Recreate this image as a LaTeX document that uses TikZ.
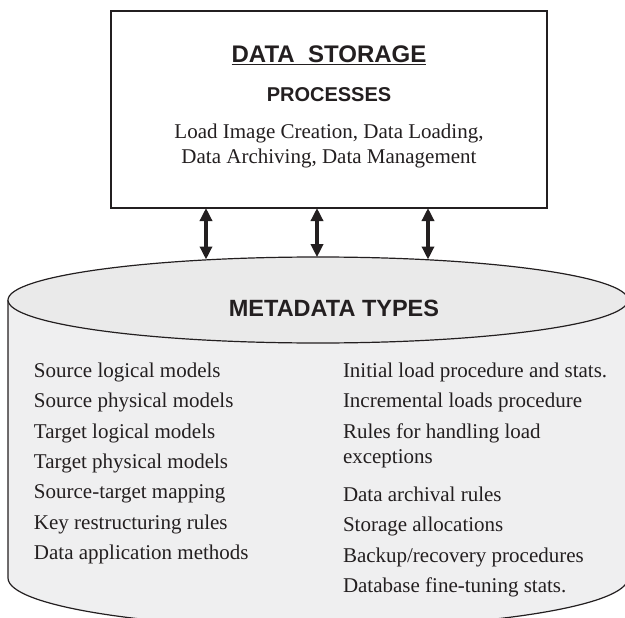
\documentclass[tikz,border=0pt]{standalone}
\usepackage{fontspec}
\setmainfont{Liberation Serif}
\newfontfamily\hdfont{Liberation Sans}
\usetikzlibrary{arrows.meta}
\definecolor{ink}{HTML}{231F20}
\definecolor{topfill}{HTML}{EAEAEA}
\definecolor{bodyfill}{HTML}{EFEFF0}
\begin{document}
\begin{tikzpicture}[x=1pt,y=1pt,
  every node/.style={inner sep=0pt, outer sep=0pt, text=ink},
  item/.style={anchor=base west, font=\fontsize{21}{25}\selectfont},
  boxline/.style={anchor=base, font=\fontsize{21}{25}\selectfont},
  headA/.style={anchor=base, font=\hdfont\bfseries\fontsize{24}{28}\selectfont},
  headB/.style={anchor=base, font=\hdfont\bfseries\fontsize{20}{24}\selectfont},
  headC/.style={anchor=base, font=\hdfont\bfseries\fontsize{23.5}{28}\selectfont},
  dbl/.style={{Triangle[width=12pt,length=13pt]}-{Triangle[width=12pt,length=13pt]}, line width=3.5pt, draw=ink},
  frame/.style={draw=ink, line width=1.3pt},
  cyl/.style={draw=ink, line width=1.2pt}]
\useasboundingbox (0,0) rectangle (625,-618);
% storage box
\node[frame, fill=white, minimum width=436pt, minimum height=197pt, anchor=north west] (box) at (111,-11) {};
\node[headA] (ds) at (329,-63) {\underline{DATA\ \ STORAGE}};
\node[headB] (proc) at (329,-102) {PROCESSES};
\node[boxline] (l1) at (329,-139) {Load Image Creation, Data Loading,};
\node[boxline] (l2) at (329,-164) {Data Archiving, Data Management};
% cylinder
\filldraw[cyl, fill=bodyfill] (8,-300) -- (8,-578) arc[start angle=180, end angle=360, x radius=310, y radius=50] -- (628,-300);
\filldraw[cyl, fill=topfill] (318,-300) ellipse[x radius=310, y radius=43];
\node[headC] (mt) at (334,-316) {METADATA TYPES};
% arrows
\coordinate (b1) at (206,-259.5);
\coordinate (b2) at (317,-257.2);
\coordinate (b3) at (428,-259.5);
\draw[dbl] (box.south -| b1) -- (b1);
\draw[dbl] (box.south -| b2) -- (b2);
\draw[dbl] (box.south -| b3) -- (b3);
% left column
\node[item] (s1) at (34,-377) {Source logical models};
\node[item] (s2) at (34,-407.5) {Source physical models};
\node[item] (s3) at (34,-438) {Target logical models};
\node[item] (s4) at (34,-468) {Target physical models};
\node[item] (s5) at (34,-498.5) {Source-target mapping};
\node[item] (s6) at (34,-529) {Key restructuring rules};
\node[item] (s7) at (34,-559.5) {Data application methods};
% right column
\node[item] (r1) at (343,-377) {Initial load procedure and stats.};
\node[item] (r2) at (343,-407.5) {Incremental loads procedure};
\node[item] (r3) at (343,-438) {Rules for handling load};
\node[item] (r4) at (343,-463) {exceptions};
\node[item] (r5) at (343,-501) {Data archival rules};
\node[item] (r6) at (343,-531.5) {Storage allocations};
\node[item] (r7) at (343,-562) {Backup/recovery procedures};
\node[item] (r8) at (343,-592.5) {Database fine-tuning stats.};
\end{tikzpicture}
\end{document}
